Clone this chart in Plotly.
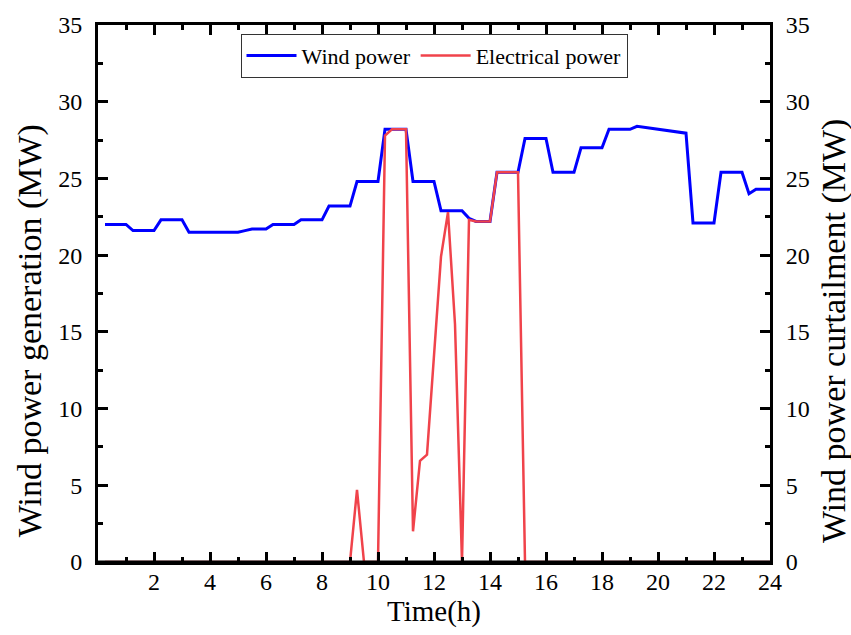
import plotly.graph_objects as go

# 15-minute resolution over 24 h
time_h = [0.25 * i for i in range(1, 97)]

wind_power = [
    22.0, 22.0, 22.0, 22.0,   21.6, 21.6, 21.6, 21.6,   22.3, 22.3, 22.3, 22.3,
    21.5, 21.5, 21.5, 21.5,   21.5, 21.5, 21.5, 21.5,   21.6, 21.7, 21.7, 21.7,
    22.0, 22.0, 22.0, 22.0,   22.3, 22.3, 22.3, 22.3,   23.2, 23.2, 23.2, 23.2,
    24.8, 24.8, 24.8, 24.8,   28.2, 28.2, 28.2, 28.2,   24.8, 24.8, 24.8, 24.8,
    22.9, 22.9, 22.9, 22.9,   22.4, 22.2, 22.2, 22.2,   25.4, 25.4, 25.4, 25.4,
    27.6, 27.6, 27.6, 27.6,   25.4, 25.4, 25.4, 25.4,   27.0, 27.0, 27.0, 27.0,
    28.2, 28.2, 28.2, 28.2,   28.4, 28.33, 28.27, 28.2, 28.14, 28.07, 28.0, 27.95,
    22.1, 22.1, 22.1, 22.1,   25.4, 25.4, 25.4, 25.4,   24.0, 24.3, 24.3, 24.3,
]

electrical_power = [
    0, 0, 0, 0,  0, 0, 0, 0,  0, 0, 0, 0,  0, 0, 0, 0,  0, 0, 0, 0,  0, 0, 0, 0,
    0, 0, 0, 0,  0, 0, 0, 0,  0, 0, 0, 0,
    4.7, 0, 0, 0,
    27.8, 28.2, 28.2, 28.2,
    2.0, 6.6, 7.0, 13.2,
    19.9, 22.8, 15.5, 0,
    22.3, 22.2, 22.2, 22.2,
    25.4, 25.4, 25.4, 25.4,
    0, 0, 0, 0,  0, 0, 0, 0,  0, 0, 0, 0,  0, 0, 0, 0,  0, 0, 0, 0,  0, 0, 0, 0,
    0, 0, 0, 0,  0, 0, 0, 0,  0, 0, 0, 0,
]

x_tickvals = list(range(2, 25, 2))
x_minorvals = list(range(1, 24, 2))
y_tickvals = list(range(0, 36, 5))

FONT = "Times New Roman, Liberation Serif, DejaVu Serif, serif"
BLUE = "#0000FF"
RED = "#F0434B"

fig = go.Figure()
fig.add_trace(go.Scatter(x=time_h, y=wind_power, mode="lines", name="Wind power",
                         line=dict(color=BLUE, width=3)))
fig.add_trace(go.Scatter(x=time_h, y=electrical_power, mode="lines", name="Electrical power",
                         line=dict(color=RED, width=2.5)))
# invisible trace that anchors the right-hand (curtailment) axis
fig.add_trace(go.Scatter(x=time_h, y=electrical_power, mode="lines", yaxis="y2",
                         line=dict(width=0, color="rgba(0,0,0,0)"), opacity=0,
                         showlegend=False, hoverinfo="skip"))

axis_common = dict(
    showline=True, linecolor="black", linewidth=3,
    ticks="inside", ticklen=10, tickwidth=3, tickcolor="black",
    showgrid=False, zeroline=False,
    tickfont=dict(family=FONT, size=24, color="black"),
    layer="above traces",
)

fig.update_layout(
    width=851, height=635,
    margin=dict(l=98, r=81, t=20, b=73),
    plot_bgcolor="white", paper_bgcolor="white",
    font=dict(family=FONT, color="black"),
    showlegend=True,
    legend=dict(
        orientation="h", x=0.5, xanchor="center", y=0.984, yanchor="top",
        bordercolor="#333333", borderwidth=1, bgcolor="white",
        font=dict(family=FONT, size=22, color="black"),
        itemwidth=50,
    ),
    xaxis=dict(
        range=[0, 24], tickmode="array", tickvals=x_tickvals, mirror="ticks",
        minor=dict(tickmode="array", tickvals=x_minorvals, ticks="inside",
                   ticklen=5, tickwidth=3, tickcolor="black"),
        ticklabelstandoff=-4,
        **axis_common,
    ),
    yaxis=dict(
        range=[0, 35], tickmode="array", tickvals=y_tickvals,
        minor=dict(dtick=2.5, ticks="inside", ticklen=5, tickwidth=3, tickcolor="black"),
        ticklabelstandoff=8,
        **axis_common,
    ),
    yaxis2=dict(
        range=[0, 35], tickmode="array", tickvals=y_tickvals, overlaying="y", side="right",
        minor=dict(dtick=2.5, ticks="inside", ticklen=5, tickwidth=3, tickcolor="black"),
        ticklabelstandoff=8,
        **axis_common,
    ),
    # thick baseline drawn over the traces so zero-valued segments sit under the axis
    shapes=[dict(type="line", xref="paper", x0=0, x1=1, yref="y", y0=0, y1=0,
                 line=dict(color="black", width=3), layer="above")],
    annotations=[
        dict(text="Wind power generation (MW)", xref="paper", yref="paper",
             x=-0.101, y=0.43, xanchor="center", yanchor="middle", textangle=-90,
             showarrow=False, font=dict(family=FONT, size=34, color="black")),
        dict(text="Wind power curtailment (MW)", xref="paper", yref="paper",
             x=1.0952, y=0.43, xanchor="center", yanchor="middle", textangle=-90,
             showarrow=False, font=dict(family=FONT, size=34, color="black")),
        dict(text="Time(h)", xref="paper", yref="paper",
             x=0.5, y=-0.092, xanchor="center", yanchor="middle",
             showarrow=False, font=dict(family=FONT, size=29, color="black")),
    ],
)

fig.write_html("out.html")
